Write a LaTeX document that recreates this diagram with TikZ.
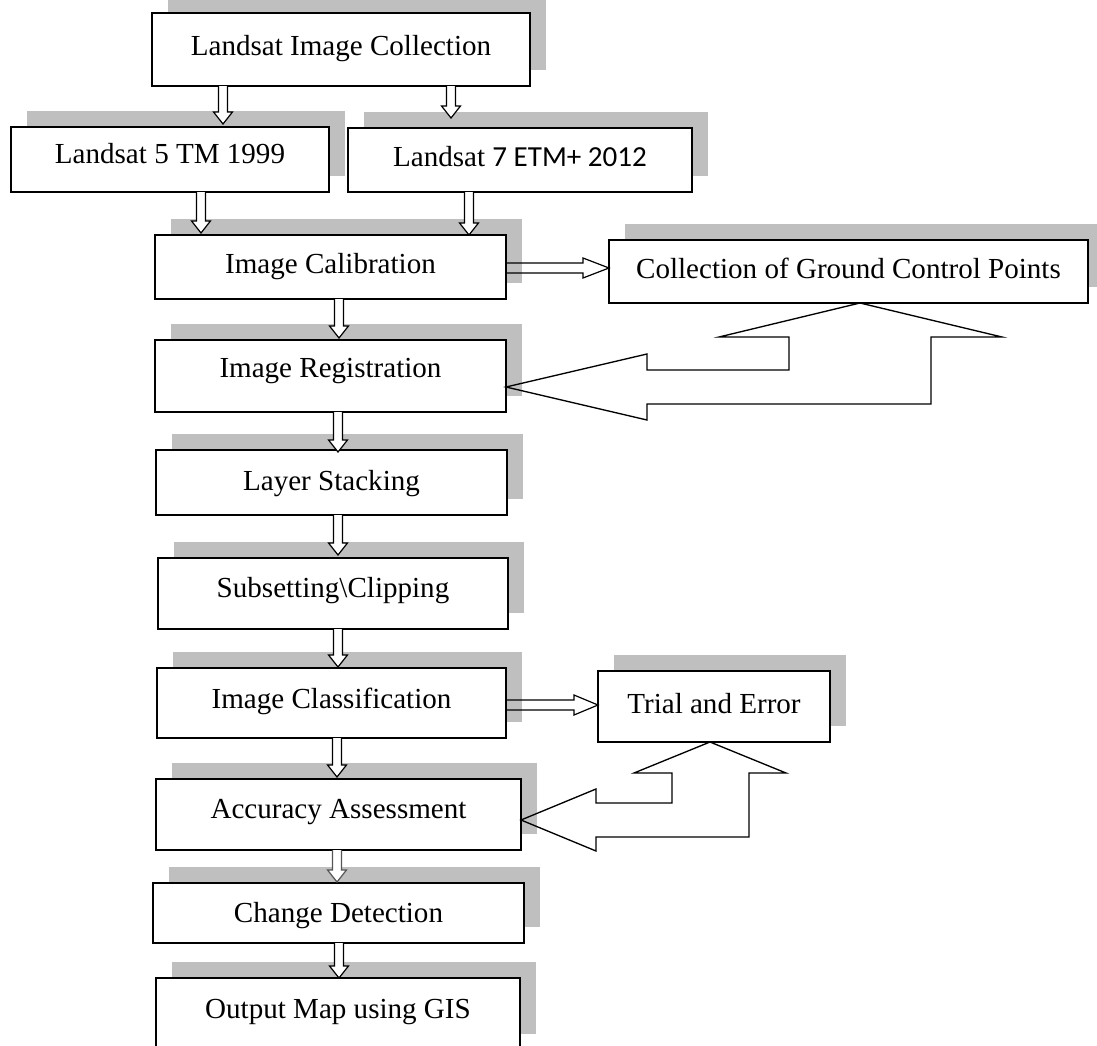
\documentclass[tikz,border=0pt]{standalone}
\usepackage{fontspec}
\setmainfont{Liberation Serif}
\newfontfamily\calib{Carlito}
\usetikzlibrary{calc}
\definecolor{shadowgray}{RGB}{191,191,191}
\definecolor{arrowgray}{RGB}{85,85,85}
\tikzset{
  box/.style={draw=black, line width=1.3pt, fill=white, inner sep=0pt, outer sep=0pt,
    font=\fontsize{21.8pt}{26pt}\selectfont},
  varrow/.style={draw=black, line width=0.9pt, fill=white, line join=miter},
  harrow/.style={draw=black, line width=0.9pt, line join=miter},
  uarrow/.style={draw=black, line width=1pt, line join=miter},
}
% name, x1, y1, x2, y2, baseline (pixel units), text
\newcommand\boxnode[7]{%
  \pgfmathsetmacro\bxw{(#4-#2)*0.75}%
  \pgfmathsetmacro\bxh{(#6-#3)*0.75}%
  \pgfmathsetmacro\bxd{(#5-#6)*0.75}%
  \fill[shadowgray] (#2+16,#3-16) rectangle (#4+16,#5-16);%
  \node[box, minimum width=\bxw pt, text height=\bxh pt, text depth=\bxd pt,
    anchor=north west] (#1) at (#2,#3) {#7};}
% [tip offset px upward] x px, source node, target node
\newcommand\blkdown[4][0]{%
  \draw[varrow] let \p1=(#2,0 |- #3.south), \p2=(#2,0 |- #4.north) in
   (\x1-3.4pt,\y1) -- (\x1-3.4pt,\y2+#1*0.75pt+9pt) -- (\x1-7.1pt,\y2+#1*0.75pt+9pt)
   -- (\x1,\y2+#1*0.75pt) -- (\x1+7.1pt,\y2+#1*0.75pt+9pt) -- (\x1+3.4pt,\y2+#1*0.75pt+9pt)
   -- (\x1+3.4pt,\y1);}
% y px, source node, target node, head length px
\newcommand\blkright[4]{%
  \draw[harrow] let \p1=(#2.east |- 0,#1), \p2=(#3.west |- 0,#1) in
   (\x1,\y1+3.75pt) -- (\x2-#4*0.75pt,\y1+3.75pt) -- (\x2-#4*0.75pt,\y1+7.5pt)
   -- (\x2,\y1) -- (\x2-#4*0.75pt,\y1-7.5pt) -- (\x2-#4*0.75pt,\y1-3.75pt) -- (\x1,\y1-3.75pt);}
\begin{document}
\begin{tikzpicture}[x=0.75pt,y=-0.75pt]
\useasboundingbox (0,0) rectangle (1097,1046);
\fill[white] (0,0) rectangle (1097,1046);

\boxnode{b1}{152}{13}{530}{86}{55}{Landsat Image Collection}
\boxnode{b2}{11}{127}{329}{192}{163}{Landsat 5 TM 1999}
\boxnode{b3}{348}{128}{692}{192}{166}{Landsat {\calib 7 ETM+ 2012}}
\boxnode{b4}{155}{235}{506}{299}{273}{Image Calibration}
\boxnode{gcp}{609}{240}{1088}{303}{278}{Collection of Ground Control Points}
\boxnode{b5}{155}{340}{506}{412}{377}{Image Registration}
\boxnode{b6}{156}{450}{507}{515}{490}{Layer Stacking}
\boxnode{b7}{158}{558}{508}{629}{597}{Subsetting\textbackslash Clipping}
\boxnode{b8}{157}{668}{506}{738}{708}{Image Classification}
\boxnode{trial}{598}{671}{830}{742}{713}{Trial and Error}
\boxnode{b9}{156}{779}{521}{850}{818}{Accuracy Assessment}
\boxnode{b10}{153}{883}{524}{943}{922}{Change Detection}
\boxnode{b11}{156}{978}{520}{1050}{1018}{Output Map using GIS}

\blkdown[3]{223}{b1}{b2}
\blkdown[10]{451}{b1}{b3}
\blkdown[2]{201}{b2}{b4}
\blkdown{469}{b3}{b4}
\blkdown[2]{339}{b4}{b5}
\blkdown[-2]{338}{b5}{b6}
\blkdown[3]{338}{b6}{b7}
\blkdown[1]{338}{b7}{b8}
\blkdown[2]{337}{b8}{b9}
\begin{scope}[varrow/.append style={draw=arrowgray}]
\blkdown[1]{337}{b9}{b10}
\end{scope}
\blkdown{339}{b10}{b11}

\blkright{268}{b4}{gcp}{26}
\blkright{705}{b8}{trial}{24}

% left-up block arrows
\draw[uarrow] (860,303) -- (1002,337) -- (931,337) -- (931,404) -- (647,404) -- (647,420)
  -- (506,387) -- (647,354) -- (647,370) -- (789,370) -- (789,337) -- (719,337) -- cycle;
\draw[uarrow] (710,742) -- (786,773) -- (749,773) -- (749,837) -- (596,837) -- (596,851)
  -- (521,820) -- (596,789) -- (596,803) -- (672,803) -- (672,773) -- (634,773) -- cycle;
\end{tikzpicture}
\end{document}
